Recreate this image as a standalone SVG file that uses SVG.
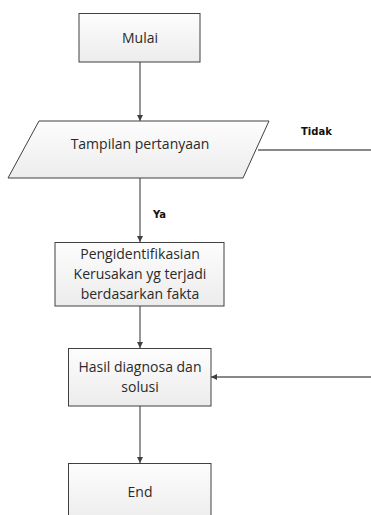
<svg xmlns="http://www.w3.org/2000/svg" width="371" height="515" viewBox="0 0 371 515">
<defs>
<linearGradient id="g" x1="0" y1="0" x2="0" y2="1">
<stop offset="0" stop-color="#fdfdfd"/>
<stop offset="1" stop-color="#ececec"/>
</linearGradient>
<marker id="a" viewBox="0 0 10 10" refX="10" refY="5" markerWidth="6" markerHeight="6" markerUnits="userSpaceOnUse" orient="auto">
<path d="M0,0 L10,5 L0,10 z" fill="#404040"/>
</marker>
<style>
.n{fill:url(#g);stroke:#404040;stroke-width:1}
.t{font-family:"Open Sans","Liberation Sans",sans-serif;font-size:14px;fill:#2a2a2a;text-anchor:middle}
.l{font-family:"DejaVu Sans",sans-serif;font-weight:bold;font-size:10px;fill:#111}
.c{fill:none;stroke:#606060;stroke-width:1.3}
</style>
</defs>
<g id="connectors">
<line class="c" x1="140" y1="62" x2="140" y2="121" marker-end="url(#a)"/>
<line class="c" x1="140" y1="178" x2="140" y2="242" marker-end="url(#a)"/>
<line class="c" x1="140" y1="306" x2="140" y2="348" marker-end="url(#a)"/>
<line class="c" x1="140" y1="406" x2="140" y2="463" marker-end="url(#a)"/>
<line class="c" x1="258" y1="150" x2="371" y2="150" stroke="#333"/>
<line class="c" x1="371" y1="377" x2="211" y2="377" marker-end="url(#a)"/>
<text class="l" x="301" y="135">Tidak</text>
<text class="l" x="153" y="218">Ya</text>
</g>
<g id="mulai">
<rect class="n" x="79" y="13.5" width="121" height="48.5"/>
<text class="t" x="140" y="43">Mulai</text>
</g>
<g id="tampilan">
<polygon class="n" points="39,121 269,121 243,178 8,178"/>
<text class="t" x="140" y="149">Tampilan pertanyaan</text>
</g>
<g id="pengidentifikasian">
<rect class="n" x="55" y="242.5" width="169" height="63.5"/>
<text class="t" x="140" y="259">Pengidentifikasian</text>
<text class="t" x="140" y="279">Kerusakan yg terjadi</text>
<text class="t" x="140" y="299">berdasarkan fakta</text>
</g>
<g id="hasil">
<rect class="n" x="68.5" y="348.5" width="142.5" height="57.5"/>
<text class="t" x="140" y="372">Hasil diagnosa dan</text>
<text class="t" x="140" y="392">solusi</text>
</g>
<g id="end">
<rect class="n" x="68.5" y="463.5" width="142.5" height="60"/>
<text class="t" x="140" y="497">End</text>
</g>
</svg>
